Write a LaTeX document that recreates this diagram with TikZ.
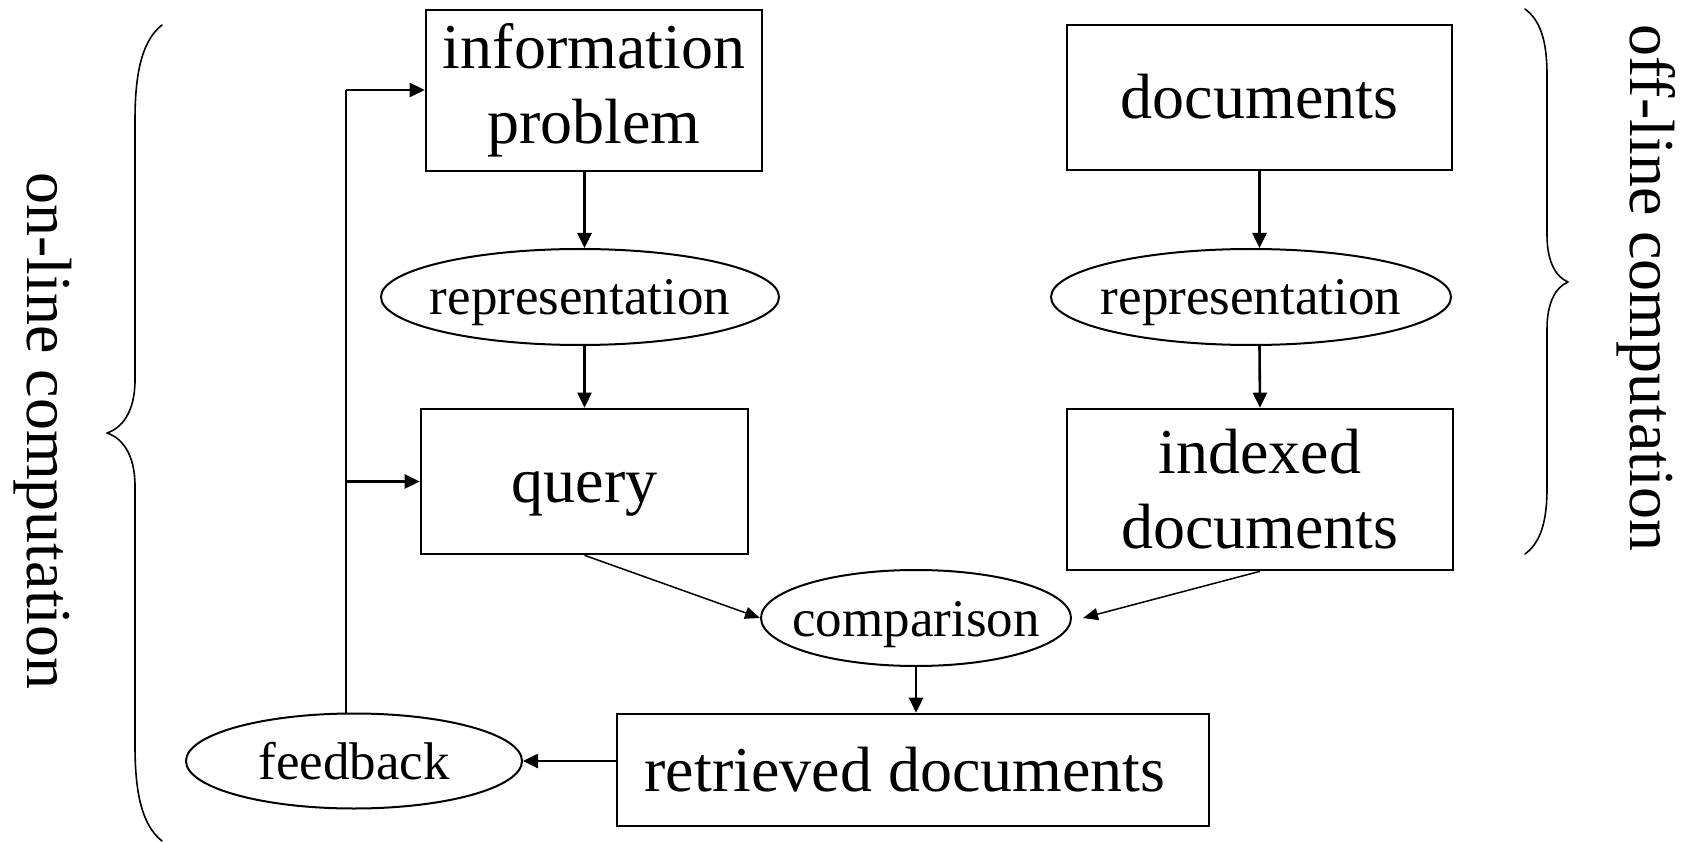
\documentclass[tikz,border=0pt]{standalone}
\usepackage{fontspec}
\setmainfont{Liberation Serif}
\usetikzlibrary{shapes.geometric,arrows.meta}

\tikzset{
  big/.style={font=\fontsize{64}{75}\selectfont},
  small/.style={font=\fontsize{53}{62}\selectfont},
  stepbox/.style={draw, line width=2.6pt, inner sep=0pt, align=center, big},
  oneline/.style={text height=44pt, text depth=2pt},
  oval/.style={draw, ellipse, line width=2pt, inner xsep=-40pt, inner ysep=0pt,
    text height=36pt, text depth=0pt, small},
  arr/.style={line width=2.6pt, -{Triangle[length=15pt,width=14pt]}},
  thinarr/.style={line width=1.5pt, -{Triangle[length=15pt,width=12pt]}},
  brace/.style={line width=1.6pt, line cap=round, line join=round},
  side/.style={big, rotate=-90, inner sep=0pt}
}

\begin{document}
\begin{tikzpicture}[x=1pt,y=-1pt]
\useasboundingbox (0,0) rectangle (1690,842);

% boxes
\node[stepbox, minimum width=336pt, minimum height=161pt] (info) at (594,90.5) {information\\problem};
\node[stepbox, oneline, minimum width=385pt, minimum height=145pt] (docs) at (1259.5,97.5) {documents};
\node[stepbox, oneline, minimum width=327pt, minimum height=145pt] (query) at (584.5,481.5) {query};
\node[stepbox, minimum width=386pt, minimum height=161pt] (indexed) at (1260,489.5) {indexed\\documents};
\node[stepbox, oneline, minimum width=592pt, minimum height=112pt] (retrieved) at (913,770) {retrieved documents\hspace*{16pt}};

% ellipses
\node[oval, minimum width=398pt, minimum height=96pt] (rep1) at (580,297) {representation};
\node[oval, minimum width=400pt, minimum height=96pt] (rep2) at (1251,297) {representation};
\node[oval, minimum width=310pt, minimum height=96pt] (comparison) at (916,618) {comparison};
\node[oval, minimum width=336pt, minimum height=95pt] (feedback) at (354,761) {feedback};

% main flow
\draw[arr] (query.north |- info.south) -- (query.north |- rep1.north);
\draw[arr] (query.north |- rep1.south) -- (query.north);
\draw[arr] (docs.south) -- (docs.south |- rep2.north);
\draw[arr] (docs.south |- rep2.south) -- (indexed.north);
\draw[thinarr] (query.south) -- (comparison.west);
\draw[thinarr] (indexed.south) -- ([xshift=11pt]comparison.east);
\draw[arr] (comparison.south) -- (comparison.south |- retrieved.north);
\draw[arr] (retrieved.west |- feedback.east) -- (feedback.east);

% feedback loop
\coordinate (fb) at (346,90);
\draw[line width=2.6pt] (fb |- feedback.north) -- (fb);
\draw[arr] (fb) -- (fb -| info.west);
\draw[arr] (fb |- query.west) -- (query.west);

% braces
\draw[brace] (162,25) .. controls (143,40) and (135,70) .. (135,120)
  -- (135,380) .. controls (135,412) and (122,428) .. (107,433)
  .. controls (122,438) and (135,454) .. (135,486)
  -- (135,746) .. controls (135,796) and (143,826) .. (162,841);
\draw[brace] (1525,9) .. controls (1540,20) and (1547,40) .. (1547,75)
  -- (1547,235) .. controls (1547,262) and (1556,277) .. (1568,282)
  .. controls (1556,287) and (1547,302) .. (1547,329)
  -- (1547,488) .. controls (1547,523) and (1540,543) .. (1525,554);

% side labels
\node[side] (online) at (43,431) {on-line computation};
\node[side] (offline) at (1646,288) {off-line computation};
\end{tikzpicture}
\end{document}
